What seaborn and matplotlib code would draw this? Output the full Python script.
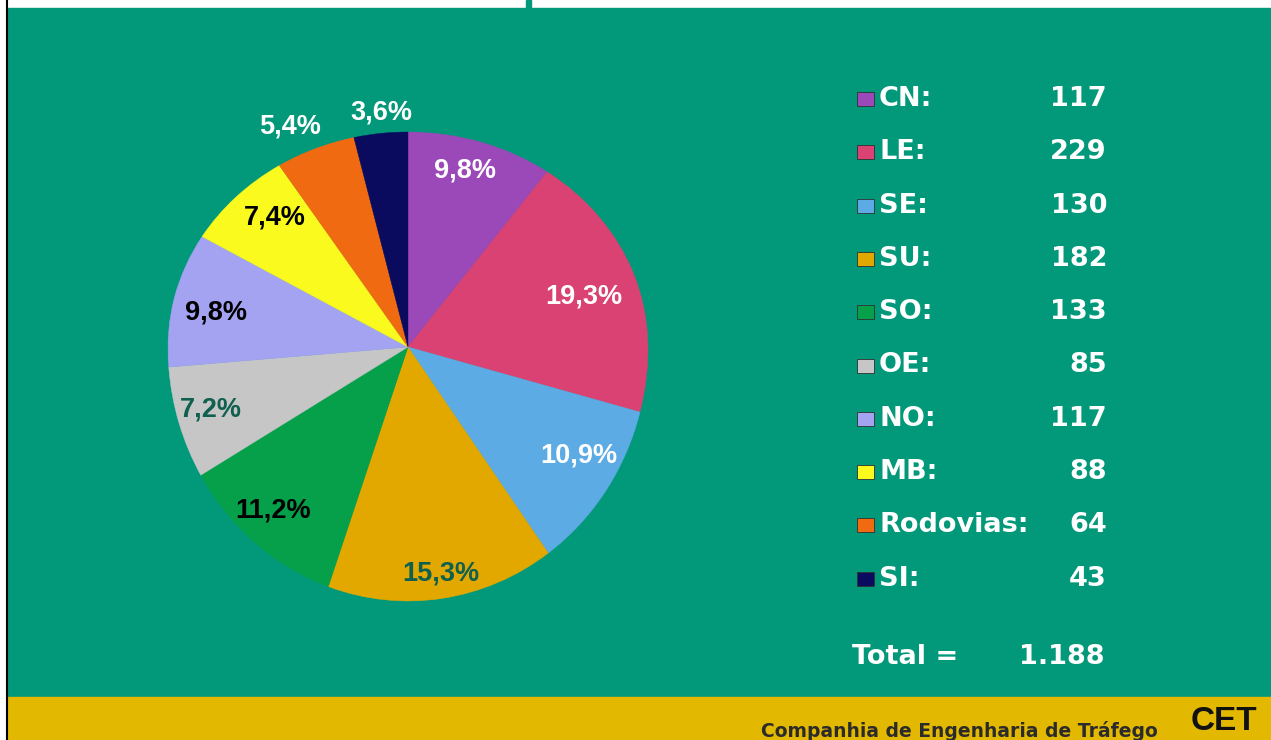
import matplotlib.pyplot as plt
import numpy as np
import seaborn as sns
from matplotlib.patches import PathPatch, Rectangle
from matplotlib.path import Path

# dados
REGIOES = ["CN", "LE", "SE", "SU", "SO", "OE", "NO", "MB", "Rodovias", "SI"]
VALORES = [117, 229, 130, 182, 133, 85, 117, 88, 64, 43]
ROTULOS_PCT = ["9,8%", "19,3%", "10,9%", "15,3%", "11,2%", "7,2%", "9,8%", "7,4%", "5,4%", "3,6%"]
TOTAL_TXT = "1.188"

CORES = ["#9B48B8", "#D94272", "#5DABE4", "#E3A800", "#06A04A",
         "#C6C6C6", "#A3A3F2", "#FAFA1E", "#F06A12", "#0A0A5E"]
COR_ROTULO = ["white", "white", "white", "#106050", "black",
              "#106050", "black", "black", "white", "white"]
RAIO_ROTULO = [0.78, 0.77, 0.85, 0.96, 0.89, 0.87, 0.82, 0.78, 1.05, 0.99]
DESVIO_ANG = [0, -4, 2, 0, 0, 0, 3, 0, 5.5, 0]

VERDE = "#02987A"
AMARELO = "#E2B800"
W, H = 1271, 740

sns.set_theme(style="white")
plt.rcParams["font.family"] = ["DejaVu Sans"]

fig = plt.figure(figsize=(W / 100, H / 100), dpi=100)
fig.patch.set_facecolor("white")

# fundo do slide
bg = fig.add_axes([0, 0, 1, 1])
bg.set_xlim(0, W)
bg.set_ylim(H, 0)
bg.axis("off")
bg.add_patch(Rectangle((8, 8), W - 8, 689, color=VERDE))
bg.add_patch(Rectangle((8, 697), W - 8, 43, color=AMARELO))
bg.add_patch(Rectangle((526, 0), 5, 8, color=VERDE))
bg.plot([7, 7], [0, H], color="black", lw=1.5)

# pizza com leve perspectiva: metade de cima achatada, metade de baixo alongada
cx, cy, half = 408, 347, 265
ax = fig.add_axes([(cx - half) / W, (H - cy - half) / H, 2 * half / W, 2 * half / H])
raio = 240 / half
k_cima, k_baixo = 215 / 240, 254 / 240
wedges, _ = ax.pie(VALORES, colors=CORES, startangle=90, counterclock=False,
                   radius=raio, wedgeprops=dict(linewidth=0))
for w in wedges:
    p = w.get_path()
    verts = p.vertices.copy()
    verts[:, 1] = np.where(verts[:, 1] > 0, verts[:, 1] * k_cima, verts[:, 1] * k_baixo)
    ax.add_patch(PathPatch(Path(verts, p.codes), facecolor=w.get_facecolor(),
                           linewidth=0.3, edgecolor=w.get_facecolor()))
    w.set_visible(False)
ax.set_xlim(-1, 1)
ax.set_ylim(-1, 1)
ax.axis("off")
raio_txt = 238 / half
for w, txt, cor, r, d in zip(wedges, ROTULOS_PCT, COR_ROTULO, RAIO_ROTULO, DESVIO_ANG):
    ang = np.deg2rad((w.theta1 + w.theta2) / 2 + d)
    ax.text(r * raio_txt * np.cos(ang), r * raio_txt * np.sin(ang), txt,
            color=cor, ha="center", va="center", fontsize=19.5, fontweight="bold",
            family="Liberation Sans")

# legenda à direita
y0, dy = 99, 53.3
for i, (nome, val, cor) in enumerate(zip(REGIOES, VALORES, CORES)):
    y = y0 + i * dy
    bg.add_patch(Rectangle((857, y - 7), 17, 14, facecolor=cor,
                           edgecolor="#303030", lw=0.6))
    bg.text(879, y, f"{nome}:", color="white", fontsize=19.5, fontweight="bold",
            ha="left", va="center")
    bg.text(1107, y, str(val), color="white", fontsize=19.5, fontweight="bold",
            ha="right", va="center")
bg.text(852, 657, "Total =", color="white", fontsize=19.5, fontweight="bold",
        ha="left", va="center")
bg.text(1105, 657, TOTAL_TXT, color="white", fontsize=19.5, fontweight="bold",
        ha="right", va="center")

# rodapé
bg.text(1158, 731, "Companhia de Engenharia de Tráfego", color="#2B2B2B",
        fontsize=13.5, fontweight="bold", ha="right", va="center")
bg.text(1224, 737, "CET", color="#111111", fontsize=24, fontweight="heavy",
        ha="center", va="bottom", family="Liberation Sans")

fig.savefig("out.png", dpi=100, facecolor=fig.get_facecolor())
